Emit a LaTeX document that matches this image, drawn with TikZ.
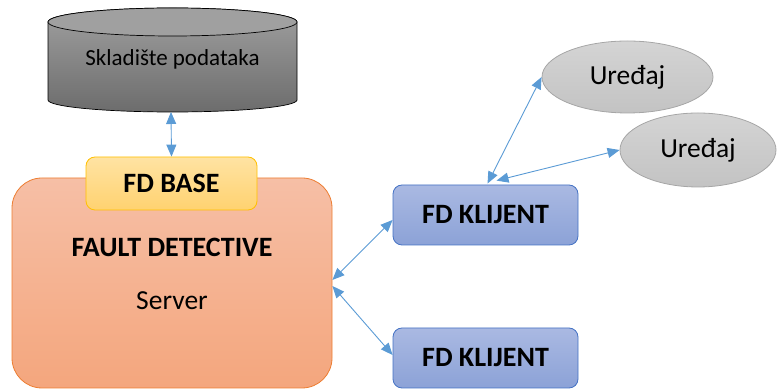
\documentclass[tikz,border=0pt]{standalone}
\usepackage{fontspec}
\setmainfont{Carlito}
\usetikzlibrary{arrows.meta,shapes.geometric}
\definecolor{arr}{HTML}{5B9BD5}
\definecolor{mainTop}{HTML}{F6BFA6}
\definecolor{mainBot}{HTML}{F4A67D}
\definecolor{mainLine}{HTML}{ED7D31}
\definecolor{baseTop}{HTML}{FFE3A3}
\definecolor{baseBot}{HTML}{FFD270}
\definecolor{baseLine}{HTML}{FFC000}
\definecolor{kTop}{HTML}{AAB9E2}
\definecolor{kBot}{HTML}{8CA2D7}
\definecolor{kLine}{HTML}{4472C4}
\definecolor{eTop}{HTML}{D4D4D4}
\definecolor{eBot}{HTML}{C3C3C3}
\definecolor{eLine}{HTML}{A6A6A6}
\definecolor{cTop}{HTML}{A0A0A0}
\definecolor{cBot}{HTML}{6C6C6C}
\begin{document}
\begin{tikzpicture}[x=1pt,y=1pt,
  big/.style={font=\fontsize{27.5}{31}\selectfont},
  bigb/.style={font=\fontsize{28}{32}\selectfont\bfseries},
  mainbox/.style={rectangle,rounded corners=30pt,draw=mainLine,line width=0.8pt,top color=mainTop,bottom color=mainBot,minimum width=320pt,minimum height=210pt,inner sep=0pt},
  basebox/.style={rectangle,rounded corners=9pt,draw=baseLine,line width=0.8pt,top color=baseTop,bottom color=baseBot,minimum width=171pt,minimum height=53pt,inner sep=0pt,bigb},
  kbox/.style={rectangle,rounded corners=9pt,draw=kLine,line width=0.8pt,top color=kTop,bottom color=kBot,minimum width=185pt,minimum height=60pt,inner sep=0pt,bigb},
  dev/.style={ellipse,draw=eLine,line width=0.8pt,top color=eTop,bottom color=eBot,inner sep=0pt,big},
  link/.style={draw=arr,line width=0.9pt,{Triangle[length=12pt,width=10pt]}-{Triangle[length=12pt,width=10pt]}}
]
\useasboundingbox (0,0) rectangle (777,390);
% cylinder
\path[draw=black,line width=0.7pt,top color=cTop,bottom color=cBot]
  (48,368) -- (48,290) arc[start angle=180,end angle=360,x radius=124.5pt,y radius=12pt]
  -- (297,368) arc[start angle=0,end angle=180,x radius=124.5pt,y radius=14pt] -- cycle;
\path[draw=black,line width=0.7pt,fill=cTop] (172.5,368) ellipse[x radius=124.5pt,y radius=14pt];
\node[font=\fontsize{23}{27}\selectfont] (db) at (172.5,331) {Skladište podataka};
\coordinate (dbb) at (171,278);
% server
\node[mainbox] (main) at (172,107) {};
\node[basebox] (base) at (171.5,206.5) {FD BASE};
\node[bigb] (fd) at (172,143) {FAULT DETECTIVE};
\node[big] (srv) at (172,89) {Server};
% clients
\node[kbox] (k1) at (485.5,175) {FD KLIJENT};
\node[kbox] (k2) at (485.5,32) {FD KLIJENT};
% devices
\node[dev,minimum width=171pt,minimum height=72pt] (e1) at (627.5,313) {Uređaj};
\node[dev,minimum width=156pt,minimum height=74pt] (e2) at (698,240) {Uređaj};
% links
\draw[link] (dbb) -- (base.north);
\draw[link] ([yshift=3pt]main.east) -- ([yshift=-5pt]k1.west);
\draw[link] ([yshift=-3pt]main.east) -- ([yshift=3pt]k2.west);
\draw[link] ([xshift=2pt,yshift=1pt]k1.north) -- (e1.west);
\draw[link] ([xshift=11pt,yshift=4pt]k1.north) -- (e2.west);
\end{tikzpicture}
\end{document}
